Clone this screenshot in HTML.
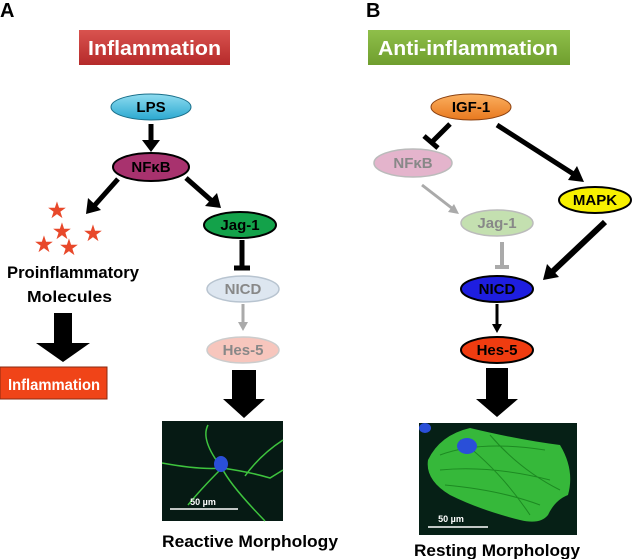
<!DOCTYPE html>
<html><head><meta charset="utf-8"><style>
html,body{margin:0;padding:0;background:#fff;}
svg{display:block;}
text{font-family:"Liberation Sans",sans-serif;font-weight:bold;}
</style></head><body>
<svg width="632" height="559" viewBox="0 0 632 559" xmlns="http://www.w3.org/2000/svg">
<defs>
<linearGradient id="red" x1="0" y1="0" x2="0" y2="1"><stop offset="0" stop-color="#d9534f"/><stop offset="1" stop-color="#b52a2a"/></linearGradient>
<linearGradient id="grn" x1="0" y1="0" x2="0" y2="1"><stop offset="0" stop-color="#8fbf4a"/><stop offset="1" stop-color="#6f9e2e"/></linearGradient>
<linearGradient id="lps" x1="0" y1="0" x2="0" y2="1"><stop offset="0" stop-color="#8fdcf0"/><stop offset="1" stop-color="#2aa8d0"/></linearGradient>
<linearGradient id="igf" x1="0" y1="0" x2="0" y2="1"><stop offset="0" stop-color="#fbb060"/><stop offset="1" stop-color="#e8781e"/></linearGradient>
</defs>
<text x="0" y="17" font-size="20" fill="#000">A</text>
<text x="366" y="17" font-size="20" fill="#000">B</text>
<rect x="79" y="30" width="151" height="35" fill="url(#red)"/>
<text x="88" y="55" font-size="20" fill="#fff" textLength="133" lengthAdjust="spacingAndGlyphs">Inflammation</text>
<rect x="368" y="30" width="202" height="35" fill="url(#grn)"/>
<text x="378" y="55" font-size="20" fill="#fff" textLength="180" lengthAdjust="spacingAndGlyphs">Anti-inflammation</text>

<!-- Panel A -->
<ellipse cx="151" cy="107" rx="40" ry="13" fill="url(#lps)" stroke="#1a6f8a" stroke-width="1"/>
<text x="151" y="112" font-size="15" text-anchor="middle" fill="#000">LPS</text>
<line x1="151" y1="124" x2="151" y2="142" stroke="#000" stroke-width="5"/>
<polygon points="142,140 160,140 151,152" fill="#000"/>
<ellipse cx="151" cy="167" rx="38" ry="14" fill="#a8326e" stroke="#000" stroke-width="2"/>
<text x="151" y="172" font-size="15" text-anchor="middle" fill="#000">NFκB</text>
<line x1="118" y1="179" x2="94" y2="206" stroke="#000" stroke-width="5"/>
<polygon points="86,214 88,198 101,210" fill="#000"/>
<line x1="186" y1="178" x2="212" y2="201" stroke="#000" stroke-width="5"/>
<polygon points="221,208 205,206 217,193" fill="#000"/>
<ellipse cx="240" cy="225" rx="36" ry="13" fill="#13a24a" stroke="#000" stroke-width="2"/>
<text x="240" y="230" font-size="15" text-anchor="middle" fill="#000">Jag-1</text>
<line x1="242" y1="240" x2="242" y2="267" stroke="#000" stroke-width="5"/>
<line x1="234" y1="268" x2="250" y2="268" stroke="#000" stroke-width="5"/>
<ellipse cx="243" cy="289" rx="36" ry="13" fill="#dde6f0" stroke="#b8c4d0" stroke-width="1.5"/>
<text x="243" y="294" font-size="15" text-anchor="middle" fill="#888">NICD</text>
<line x1="243" y1="304" x2="243" y2="323" stroke="#aaa" stroke-width="3"/>
<polygon points="238,322 248,322 243,331" fill="#aaa"/>
<ellipse cx="243" cy="350" rx="36" ry="13" fill="#f7c6bd" stroke="#ccc" stroke-width="1.5"/>
<text x="243" y="355" font-size="15" text-anchor="middle" fill="#888">Hes-5</text>
<polygon points="232,370 256,370 256,399 265,399 244,418 223,399 232,399" fill="#000"/>
<text x="57" y="217" font-size="20" text-anchor="middle" fill="#e8482a">★</text>
<text x="62" y="238" font-size="20" text-anchor="middle" fill="#e8482a">★</text>
<text x="93" y="240" font-size="20" text-anchor="middle" fill="#e8482a">★</text>
<text x="44" y="251" font-size="20" text-anchor="middle" fill="#e8482a">★</text>
<text x="69" y="254" font-size="20" text-anchor="middle" fill="#e8482a">★</text>
<text x="7" y="278" font-size="17" fill="#000" textLength="132" lengthAdjust="spacingAndGlyphs">Proinflammatory</text>
<text x="27" y="302" font-size="16" fill="#000" textLength="85" lengthAdjust="spacingAndGlyphs">Molecules</text>
<polygon points="54,313 72,313 72,343 90,343 63,362 36,343 54,343" fill="#000"/>
<rect x="0" y="367" width="107" height="32" fill="#f04418" stroke="#8a2a10" stroke-width="1"/>
<text x="8" y="390" font-size="16" fill="#fff" textLength="92" lengthAdjust="spacingAndGlyphs">Inflammation</text>
<rect x="162" y="421" width="121" height="100" fill="#061a14"/>
<g stroke="#3ec43e" fill="none" stroke-width="1.5">
<path d="M162,463 Q200,470 222,468 Q250,472 270,478 L283,470"/>
<path d="M222,468 Q230,485 265,521"/>
<path d="M222,468 Q200,440 208,425"/>
<path d="M222,468 Q200,490 188,505"/>
<path d="M245,476 Q260,455 283,440"/>
</g>
<ellipse cx="221" cy="464" rx="7" ry="8" fill="#2a4fd8"/>
<line x1="170" y1="509" x2="238" y2="509" stroke="#fff" stroke-width="1.5"/>
<text x="203" y="505" font-size="9" text-anchor="middle" fill="#fff">50 µm</text>
<text x="162" y="547" font-size="17" fill="#000" textLength="176" lengthAdjust="spacingAndGlyphs">Reactive Morphology</text>

<!-- Panel B -->
<ellipse cx="471" cy="107" rx="40" ry="13" fill="url(#igf)" stroke="#8a4010" stroke-width="1"/>
<text x="471" y="112" font-size="15" text-anchor="middle" fill="#000">IGF-1</text>
<line x1="450" y1="124" x2="433" y2="141" stroke="#000" stroke-width="5"/>
<line x1="424" y1="136" x2="438" y2="148" stroke="#000" stroke-width="5"/>
<ellipse cx="413" cy="163" rx="39" ry="14" fill="#e4b4cc" stroke="#bbb" stroke-width="1.5"/>
<text x="413" y="168" font-size="15" text-anchor="middle" fill="#888">NFκB</text>
<line x1="497" y1="125" x2="575" y2="175" stroke="#000" stroke-width="5"/>
<polygon points="584,182 568,180 577,166" fill="#000"/>
<ellipse cx="595" cy="200" rx="36" ry="13" fill="#f7f000" stroke="#000" stroke-width="2"/>
<text x="595" y="205" font-size="15" text-anchor="middle" fill="#000">MAPK</text>
<line x1="422" y1="185" x2="453" y2="209" stroke="#aaa" stroke-width="3"/>
<polygon points="459,214 448,212 454,204" fill="#aaa"/>
<ellipse cx="497" cy="223" rx="36" ry="13" fill="#c4e0b0" stroke="#bbb" stroke-width="1.5"/>
<text x="497" y="228" font-size="15" text-anchor="middle" fill="#888">Jag-1</text>
<line x1="502" y1="242" x2="502" y2="266" stroke="#aaa" stroke-width="4"/>
<line x1="495" y1="267" x2="509" y2="267" stroke="#aaa" stroke-width="4"/>
<line x1="605" y1="222" x2="551" y2="273" stroke="#000" stroke-width="6"/>
<polygon points="543,280 547,264 559,277" fill="#000"/>
<ellipse cx="497" cy="289" rx="36" ry="13" fill="#1e1ee0" stroke="#000" stroke-width="2"/>
<text x="497" y="294" font-size="15" text-anchor="middle" fill="#000">NICD</text>
<line x1="497" y1="304" x2="497" y2="326" stroke="#000" stroke-width="3"/>
<polygon points="492,324 502,324 497,333" fill="#000"/>
<ellipse cx="497" cy="350" rx="36" ry="13" fill="#f03c10" stroke="#000" stroke-width="2"/>
<text x="497" y="355" font-size="15" text-anchor="middle" fill="#000">Hes-5</text>
<polygon points="486,368 508,368 508,399 518,399 497,417 476,399 486,399" fill="#000"/>
<rect x="419" y="423" width="158" height="112" fill="#062016"/>
<path d="M428,460 Q440,435 470,428 Q520,440 560,445 Q575,470 568,495 Q555,500 548,515 Q540,525 520,520 Q480,510 450,495 Q425,480 428,460Z" fill="#36b83a"/>
<path d="M440,455 Q480,440 545,450 M440,470 Q490,465 550,480 M445,485 Q500,490 540,505 M460,440 Q500,470 530,515 M490,435 Q520,470 560,490" stroke="#1d8a22" fill="none" stroke-width="1"/>
<ellipse cx="467" cy="446" rx="10" ry="8" fill="#2a4fd8"/>
<ellipse cx="425" cy="428" rx="6" ry="5" fill="#2a4fd8"/>
<line x1="428" y1="527" x2="488" y2="527" stroke="#fff" stroke-width="1.5"/>
<text x="451" y="522" font-size="9" text-anchor="middle" fill="#fff">50 µm</text>
<text x="414" y="556" font-size="17" fill="#000" textLength="166" lengthAdjust="spacingAndGlyphs">Resting Morphology</text>
</svg>
</body></html>
